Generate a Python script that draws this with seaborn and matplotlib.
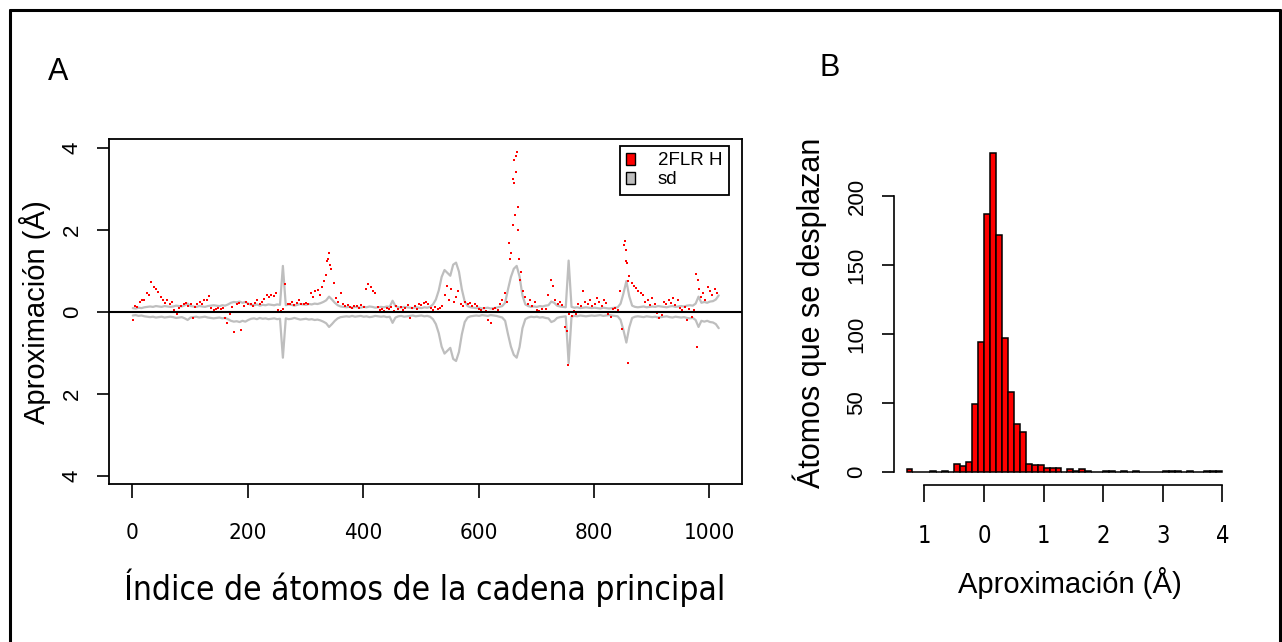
import numpy as np
import pandas as pd
import matplotlib.pyplot as plt
import seaborn as sns
from matplotlib.patches import Patch
from matplotlib.lines import Line2D

# Panel A: approximation of each backbone atom (read every 4th atom)
dot_start, dot_step = 1, 4
dot_val = [
    -0.2, 0.15, 0.12, 0.25, 0.3, 0.28, 0.45, 0.42, 0.72, 0.6,
    0.55, 0.48, 0.35, 0.3, 0.22, 0.28, 0.18, 0.25, 0.05, -0.05,
    0.1, 0.15, 0.2, 0.22, 0.15, 0.18, -0.16, 0.12, 0.2, 0.25,
    0.18, 0.3, 0.28, 0.39, 0.1, 0.05, 0.08, 0.1, 0.06, 0.09,
    -0.15, -0.28, -0.05, 0.12, -0.5, 0.18, 0.22, -0.44, 0.15, 0.25,
    0.2, 0.18, 0.15, 0.22, 0.3, 0.2, 0.25, 0.32, 0.4, 0.37,
    0.42, 0.38, 0.45, 0.05, 0.02, 0.08, 0.67, 0.2, 0.18, 0.25,
    0.17, 0.22, 0.3, 0.2, 0.18, 0.22, 0.2, 0.45, 0.37, 0.5,
    0.53, 0.4, 0.6, 0.75, 1.25, 1.43, 1.05, 0.7, 0.33, 0.25,
    0.45, 0.2, 0.15, 0.17, 0.12, 0.1, 0.15, 0.13, 0.1, 0.16,
    0.12, 0.55, 0.67, 0.6, 0.5, 0.45, 0.12, 0.05, 0.08, 0.02,
    0.09, 0.06, 0.12, 0.02, 0.15, 0.08, 0.12, 0.05, 0.1, 0.17,
    -0.16, 0.1, 0.15, 0.08, 0.2, 0.17, 0.22, 0.25, 0.18, 0.1,
    0.05, 0.12, 0.08, 0.1, 0.13, 0.4, 0.63, 0.3, 0.55, 0.25,
    0.35, 0.5, 0.2, 0.15, 0.25, 0.18, 0.22, 0.14, 0.2, 0.13,
    0.08, 0.05, 0.1, 0.02, -0.2, -0.28, 0.06, 0.1, 0.05, 0.2,
    0.3, 0.47, 0.25, 1.67, 1.43, 3.14, 3.42, 2.0, 0.98, 0.5,
    0.35, 0.2, 0.3, 0.15, 0.25, 0.05, 0.02, 0.08, 0.0, 0.06,
    0.4, 0.78, 0.62, 0.3, 0.2, 0.25, 0.17, -0.36, -0.48, -0.05,
    -0.1, 0.02, -0.05, 0.2, 0.13, 0.51, 0.25, 0.18, 0.3, 0.15,
    0.2, 0.33, 0.25, 0.15, 0.3, 0.22, -0.05, -0.13, 0.08, 0.1,
    0.05, 0.5, -0.42, 1.72, 1.19, 0.88, 0.7, 0.62, 0.58, 0.5,
    0.45, 0.41, 0.25, 0.3, 0.17, 0.33, 0.2, -0.03, -0.15, -0.08,
    0.25, 0.2, 0.3, 0.22, 0.33, 0.17, 0.28, 0.1, 0.05, 0.12,
    -0.2, 0.08, -0.13, 0.05, 0.92, 0.55, 0.37, 0.45, 0.3, 0.6,
    0.5, 0.4, 0.55, 0.45,
]
# extra atoms around the peaks
extra_idx = [335, 339, 343, 655, 659, 660, 662, 663, 664, 667, 668, 670, 671,
             755, 852, 855, 856, 858, 859, 979, 980]
extra_val = [0.9, 1.3, 1.15, 1.3, 2.12, 3.24, 3.7, 2.37, 3.81, 3.9, 2.55, 1.29, 0.78,
             -1.29, 1.63, 1.51, 1.23, 0.74, -1.25, -0.85, 0.78]

# standard deviation (every 5th atom)
sd_start, sd_step = 1, 5
sd_val = [
    0.09, 0.08, 0.10, 0.09, 0.11, 0.12, 0.13, 0.12, 0.14, 0.13,
    0.12, 0.14, 0.13, 0.12, 0.13, 0.15, 0.14, 0.13, 0.16, 0.20,
    0.14, 0.13, 0.12, 0.14, 0.13, 0.12, 0.14, 0.15, 0.16, 0.15,
    0.14, 0.16, 0.15, 0.18, 0.22, 0.24, 0.23, 0.25, 0.22, 0.24,
    0.20, 0.17, 0.16, 0.18, 0.15, 0.17, 0.16, 0.18, 0.17, 0.16,
    0.18, 0.17, 1.12, 0.16, 0.18, 0.17, 0.15, 0.17, 0.19, 0.18,
    0.17, 0.19, 0.18, 0.20, 0.19, 0.21, 0.24, 0.28, 0.37, 0.30,
    0.22, 0.16, 0.13, 0.12, 0.11, 0.12, 0.10, 0.12, 0.11, 0.10,
    0.12, 0.11, 0.13, 0.12, 0.10, 0.11, 0.12, 0.11, 0.13, 0.12,
    0.27, 0.14, 0.11, 0.10, 0.12, 0.11, 0.10, 0.09, 0.11, 0.10,
    0.09, 0.11, 0.10, 0.12, 0.18, 0.30, 0.52, 0.85, 1.02, 0.95,
    0.88, 1.15, 1.20, 0.98, 0.55, 0.25, 0.14, 0.11, 0.10, 0.09,
    0.10, 0.08, 0.09, 0.10, 0.08, 0.09, 0.10, 0.12, 0.14, 0.22,
    0.55, 0.85, 1.05, 1.12, 0.86, 0.40, 0.18, 0.14, 0.12, 0.13,
    0.12, 0.14, 0.13, 0.15, 0.16, 0.25, 0.22, 0.15, 0.13, 0.12,
    0.11, 1.25, 0.12, 0.10, 0.11, 0.09, 0.10, 0.11, 0.10, 0.09,
    0.10, 0.09, 0.08, 0.10, 0.09, 0.08, 0.09, 0.10, 0.11, 0.20,
    0.45, 0.75, 0.38, 0.15, 0.12, 0.11, 0.12, 0.13, 0.11, 0.12,
    0.13, 0.12, 0.14, 0.13, 0.12, 0.11, 0.13, 0.14, 0.12, 0.13,
    0.14, 0.13, 0.15, 0.16, 0.15, 0.20, 0.37, 0.22, 0.24, 0.22,
    0.25, 0.26, 0.30, 0.40,
]

# Panel B: histogram counts, bins of 0.1 starting at -1.3
hist_lo, hist_w = -1.3, 0.1
hist_counts = [2, 0, 0, 0, 1, 0, 1, 0, 6, 4, 7, 49, 94,
               187, 231, 172, 97, 58, 35, 29, 6, 5, 5, 3, 3, 3, 0, 2, 1, 2,
               1, 0, 0, 1, 1, 0, 1, 0, 1, 0, 0, 0, 0, 1, 1, 1, 0, 1, 0, 0,
               1, 1, 1]

xticks_a = [0, 200, 400, 600, 800, 1000]
yticks_a = [4, 2, 0, -2, -4]
ylabels_a = ['4', '2', '0', '2', '4']
xticks_b = [-1, 0, 1, 2, 3, 4]
xlabels_b = ['1', '0', '1', '2', '3', '4']
yticks_b = [0, 50, 100, 150, 200]

sns.set_theme(style='white')
plt.rcParams['font.family'] = ['Liberation Sans', 'DejaVu Sans']
for k in ['text.color', 'axes.labelcolor', 'xtick.color', 'ytick.color']:
    plt.rcParams[k] = 'black'
narrow = dict(family='DejaVu Sans', fontstretch='condensed')
grey = '#BEBEBE'

dots = pd.DataFrame({
    'idx': np.concatenate([np.arange(len(dot_val)) * dot_step + dot_start, extra_idx]),
    'val': np.concatenate([dot_val, extra_val]),
})
sd = pd.DataFrame({'idx': np.arange(len(sd_val)) * sd_step + sd_start, 'sd': sd_val})
sd['neg'] = -sd['sd']
edges = [round(hist_lo + hist_w * i, 2) for i in range(len(hist_counts) + 1)]
hist = pd.DataFrame({'mid': [e + hist_w / 2 for e in edges[:-1]], 'n': hist_counts})

W, H = 1282, 642
fig = plt.figure(figsize=(W / 100, H / 100), dpi=100)

# ---- panel A
ax1 = fig.add_axes([109.3 / W, 1 - 484.3 / H, 632.4 / W, 345 / H])
sns.lineplot(data=sd, x='idx', y='sd', color=grey, lw=1.6, ax=ax1)
sns.lineplot(data=sd, x='idx', y='neg', color=grey, lw=1.6, ax=ax1)
sns.scatterplot(data=dots, x='idx', y='val', color='red', marker='s', s=4,
                linewidth=0, ax=ax1, zorder=3)
ax1.axhline(0, color='black', lw=1.5, zorder=4)
ax1.set_xlim(-39.7, 1055.8)
ax1.set_ylim(-4.21, 4.21)
ax1.set_xticks(xticks_a)
ax1.set_xticklabels([str(t) for t in xticks_a], fontsize=16, **narrow)
ax1.set_yticks(yticks_a)
ax1.set_yticklabels(ylabels_a, rotation=90, va='center', fontsize=16)
ax1.tick_params(axis='x', direction='out', length=10, width=1.2, pad=18, bottom=True)
ax1.tick_params(axis='y', direction='out', length=9, width=1.2, pad=10, left=True)
ax1.set_xlabel('')
ax1.set_ylabel('')
for s in ax1.spines.values():
    s.set_color('black')
    s.set_linewidth(1.3)
leg = ax1.legend(handles=[Patch(facecolor='red', edgecolor='black', label='2FLR H'),
                          Patch(facecolor=grey, edgecolor='black', label='sd')],
                 loc='upper right', bbox_to_anchor=(0.98, 0.981), borderaxespad=0,
                 fontsize=13.5, handlelength=0.5, handleheight=0.6, handletextpad=1.2,
                 fancybox=False, framealpha=1, edgecolor='black',
                 borderpad=0.35, labelspacing=0.1)
leg.get_frame().set_linewidth(1.3)

# ---- panel B
ax2 = fig.add_axes([893.9 / W, 1 - 484.75 / H, 341.1 / W, 344.25 / H])
sns.histplot(data=hist, x='mid', weights='n', bins=edges, color='red',
             edgecolor='black', linewidth=1.1, alpha=1, ax=ax2)
ax2.set_xlim(-1.512, 4.212)
ax2.set_ylim(-9.24, 240.24)
for k in ['top', 'right']:
    ax2.spines[k].set_visible(False)
ax2.spines['left'].set_bounds(0, 200)
ax2.spines['bottom'].set_bounds(-1, 4)
for k in ['left', 'bottom']:
    ax2.spines[k].set_color('black')
    ax2.spines[k].set_linewidth(1.2)
ax2.set_xticks(xticks_b)
ax2.set_xticklabels(xlabels_b, fontsize=17, **narrow)
ax2.set_yticks(yticks_b)
ax2.set_yticklabels([str(t) for t in yticks_b], rotation=90, va='center', fontsize=16)
ax2.tick_params(axis='x', direction='out', length=12, width=1.2, pad=16, bottom=True)
ax2.tick_params(axis='y', direction='out', length=9, width=1.2, pad=10, left=True)
ax2.set_xlabel('')
ax2.set_ylabel('')

# ---- labels
fig.text(58 / W, 1 - 72 / H, 'A', fontsize=22, ha='center', va='center')
fig.text(830 / W, 1 - 68 / H, 'B', fontsize=22, ha='center', va='center')
fig.text(35 / W, 1 - 312 / H, 'Aproximación (Å)', fontsize=21, rotation=90,
         ha='center', va='center')
fig.text(425 / W, 1 - 588 / H, 'Índice de átomos de la cadena principal',
         fontsize=24, ha='center', va='center', **narrow)
fig.text(810 / W, 1 - 313 / H, 'Átomos que se desplazan', fontsize=22, rotation=90,
         ha='center', va='center')
fig.text(1070 / W, 1 - 583 / H, 'Aproximación (Å)', fontsize=21,
         ha='center', va='center')

# outer frame
for xs, ys in [([9.5 / W, 9.5 / W], [0, 1 - 9.5 / H]),
               ([9.5 / W, 1279.5 / W], [1 - 9.5 / H, 1 - 9.5 / H]),
               ([1279.5 / W, 1279.5 / W], [0, 1 - 9.5 / H])]:
    fig.add_artist(Line2D(xs, ys, transform=fig.transFigure, color='black', lw=2.2))

fig.savefig('out.png', dpi=100)
